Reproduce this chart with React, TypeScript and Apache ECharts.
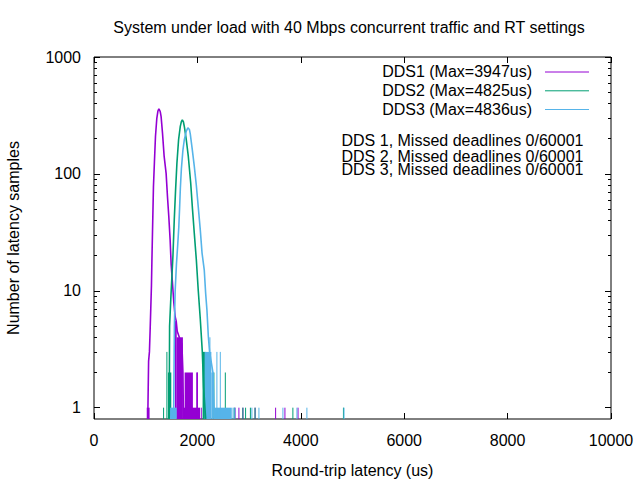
import React, { useEffect, useRef } from 'react';
import * as echarts from 'echarts';

const FONT = 'Liberation Sans';
const TITLE = 'System under load with 40 Mbps concurrent traffic and RT settings';
const X_NAME = 'Round-trip latency (us)';
const Y_NAME = 'Number of latency samples';
const X_MIN = 0;
const X_MAX = 10000;
const X_INTERVAL = 2000;
const Y_MIN = 0.8;
const Y_MAX = 1000;
const Y_MAJOR = [1, 10, 100, 1000];
const Y_MINOR = [2, 3, 4, 5, 6, 7, 8, 9, 20, 30, 40, 50, 60, 70, 80, 90, 200, 300, 400, 500, 600, 700, 800, 900];
const SERIES_NAMES = ['DDS1 (Max=3947us)', 'DDS2 (Max=4825us)', 'DDS3 (Max=4836us)'];
const DEADLINE_TEXTS = [
  'DDS 1, Missed deadlines 0/60001',
  'DDS 2, Missed deadlines 0/60001',
  'DDS 3, Missed deadlines 0/60001',
];
const COLORS = ['#9400d3', '#009e73', '#56b4e9'];

// [latency us, samples] envelope of the main histogram hump
const dds1Curve: number[][] = [
  [1040, 0], [1056, 2.5], [1072, 3], [1085, 4.5], [1098, 7], [1111, 11], [1120, 18], [1131, 31],
  [1150, 78], [1169, 127], [1189, 209], [1215, 299], [1236, 345], [1255, 360], [1270, 350],
  [1282, 340], [1298, 309], [1325, 223], [1357, 141], [1395, 101], [1421, 64], [1447, 43],
  [1473, 27], [1492, 17], [1518, 11.6], [1544, 7.9], [1570, 6], [1590, 5.5], [1610, 4.5],
  [1650, 4], [1700, 3.5], [1720, 2], [1730, 0],
];
// [from us, to us, samples] dense low-count regions
const dds1Bands: number[][] = [
  [1020, 1075, 1], [1565, 1600, 5.5], [1600, 1720, 4], [1720, 2050, 1], [1753, 1913, 2], [1979, 2010, 2],
];
// [latency us, samples] isolated bins
const dds1Spikes: number[][] = [
  [1996, 2], [2075, 1], [2729, 1], [2803, 1], [2880, 1], [3116, 1], [3513, 1], [3693, 1], [3947, 1],
];

const dds2Curve: number[][] = [
  [1455, 0], [1462, 5], [1488, 9], [1527, 20], [1553, 41], [1578, 73], [1604, 124], [1636, 196],
  [1669, 255], [1690, 280], [1708, 290], [1730, 278], [1750, 250], [1785, 196], [1824, 141],
  [1870, 84], [1905, 50], [1940, 31], [1979, 18.5], [2017, 10], [2056, 5.7], [2095, 3], [2120, 1.5],
  [2160, 0],
];
const dds2Bands: number[][] = [
  [1430, 1495, 2], [2100, 2160, 3],
];
const dds2Spikes: number[][] = [
  [1346, 1], [1410, 3], [2319, 2], [2540, 2], [2713, 1], [2880, 1], [2932, 1], [3025, 1], [3115, 1],
  [3847, 1], [4825, 1],
];

const dds3Curve: number[][] = [
  [1540, 0], [1555, 5], [1570, 10], [1595, 17], [1620, 25], [1640, 35], [1655, 50], [1670, 75],
  [1690, 110], [1720, 160], [1746, 195], [1785, 232], [1816, 248], [1845, 240], [1862, 220],
  [1901, 161], [1940, 116], [1979, 80], [2017, 52], [2056, 33], [2090, 21], [2133, 15], [2159, 9.6],
  [2184, 6.9], [2211, 4.1], [2236, 3], [2300, 2], [2330, 0],
];
const dds3Bands: number[][] = [
  [1450, 1600, 1], [2140, 2270, 3], [2270, 2315, 2], [2315, 2665, 1],
];
const dds3Spikes: number[][] = [
  [2242, 4], [2377, 3], [2443, 3], [2690, 1], [2725, 1], [3054, 1], [3190, 1], [3654, 1], [3925, 1],
  [4118, 1], [4836, 1],
];

const SETS = [
  { curve: dds1Curve, bands: dds1Bands, spikes: dds1Spikes },
  { curve: dds2Curve, bands: dds2Bands, spikes: dds2Spikes },
  { curve: dds3Curve, bands: dds3Bands, spikes: dds3Spikes },
];

const mapY = (v: number) => (v <= 0 ? Y_MIN : v);

function buildSeries() {
  const out: any[] = [];
  SETS.forEach((set, i) => {
    const color = COLORS[i];
    out.push({
      name: SERIES_NAMES[i] + ' bands',
      type: 'custom',
      silent: true,
      encode: { x: [0, 1], y: 2 },
      data: set.bands,
      renderItem: (_p: any, api: any) => {
        const a = api.coord([api.value(0), api.value(2)]);
        const b = api.coord([api.value(1), Y_MIN]);
        return {
          type: 'rect',
          shape: { x: a[0], y: a[1], width: Math.max(b[0] - a[0], 1), height: b[1] - a[1] },
          style: { fill: color },
        };
      },
    });
    out.push({
      name: SERIES_NAMES[i] + ' spikes',
      type: 'custom',
      silent: true,
      encode: { x: 0, y: 1 },
      data: set.spikes,
      renderItem: (_p: any, api: any) => {
        const a = api.coord([api.value(0), api.value(1)]);
        const b = api.coord([api.value(0), Y_MIN]);
        return {
          type: 'line',
          shape: { x1: a[0], y1: a[1], x2: b[0], y2: b[1] },
          style: { stroke: color, lineWidth: 1 },
        };
      },
    });
    out.push({
      name: SERIES_NAMES[i],
      type: 'line',
      silent: true,
      symbol: 'none',
      data: set.curve.map(([x, y]) => [x, mapY(y)]),
      lineStyle: { color, width: 1.6 },
      itemStyle: { color },
      clip: true,
    });
  });
  return out;
}

function textEl(text: string, x: number, y: number, align: string, extra: any = {}) {
  return {
    type: 'text',
    x,
    y,
    silent: true,
    style: {
      text,
      fill: '#000',
      font: `16px "${FONT}"`,
      align,
      verticalAlign: 'middle',
      ...extra,
    },
  };
}

export default function App() {
  const ref = useRef<HTMLDivElement>(null);
  useEffect(() => {
    document.body.style.margin = '0';
    const chart = echarts.init(ref.current!, undefined, { renderer: 'svg' });
    const labelStyle = { color: '#000', fontSize: 16, fontFamily: FONT };
    const plain = (v: number) => String(Math.round(v));
    const xBase = {
      type: 'value',
      min: X_MIN,
      max: X_MAX,
      interval: X_INTERVAL,
      splitLine: { show: false },
      axisLine: { show: false },
      axisTick: { inside: true, length: 6, lineStyle: { color: '#000', width: 1 } },
    };
    const yBase = {
      type: 'log',
      logBase: 10,
      min: Y_MIN,
      max: Y_MAX,
      splitLine: { show: false },
      axisLine: { show: false },
      minorTick: { show: false },
    };
    const majorTick = { inside: true, length: 6, customValues: Y_MAJOR, lineStyle: { color: '#000', width: 1 } };
    const minorTick = { inside: true, length: 3, customValues: Y_MINOR, lineStyle: { color: '#000', width: 1 } };

    const graphic: any[] = [textEl(TITLE, 349, 27.5, 'center')];
    const legendRows = [71.5, 90.3, 109];
    SERIES_NAMES.forEach((n, i) => {
      graphic.push(textEl(n, 532, legendRows[i], 'right'));
      graphic.push({
        type: 'line',
        silent: true,
        shape: { x1: 545, y1: legendRows[i] + 0.5, x2: 589, y2: legendRows[i] + 0.5 },
        style: { stroke: COLORS[i], lineWidth: 1 },
      });
    });
    const dlRows = [140.3, 156, 169.3];
    DEADLINE_TEXTS.forEach((t, i) => graphic.push(textEl(t, 341.5, dlRows[i], 'left')));

    chart.setOption({
      animation: false,
      backgroundColor: '#fff',
      textStyle: { fontFamily: FONT },
      grid: {
        left: 94,
        right: 29,
        top: 57,
        bottom: 61,
        containLabel: false,
        outerBoundsMode: 'none',
        show: true,
        borderColor: '#000',
        borderWidth: 1,
        backgroundColor: 'transparent',
      },
      xAxis: [
        {
          ...xBase,
          position: 'bottom',
          axisLabel: { ...labelStyle, margin: 13, formatter: plain },
          name: X_NAME,
          nameLocation: 'middle',
          nameGap: 43,
          nameTextStyle: labelStyle,
        },
        { ...xBase, position: 'top', axisLabel: { show: false } },
      ],
      yAxis: [
        {
          ...yBase,
          position: 'left',
          axisTick: majorTick,
          axisLabel: { ...labelStyle, margin: 13, customValues: Y_MAJOR, formatter: plain },
          name: Y_NAME,
          nameLocation: 'middle',
          nameGap: 73,
          nameTextStyle: labelStyle,
        },
        { ...yBase, position: 'left', axisTick: minorTick, axisLabel: { show: false } },
        { ...yBase, position: 'right', axisTick: majorTick, axisLabel: { show: false } },
        { ...yBase, position: 'right', axisTick: minorTick, axisLabel: { show: false } },
      ],
      graphic,
      series: buildSeries(),
    });
    return () => chart.dispose();
  }, []);
  return <div ref={ref} style={{ width: 640, height: 480 }} />;
}
